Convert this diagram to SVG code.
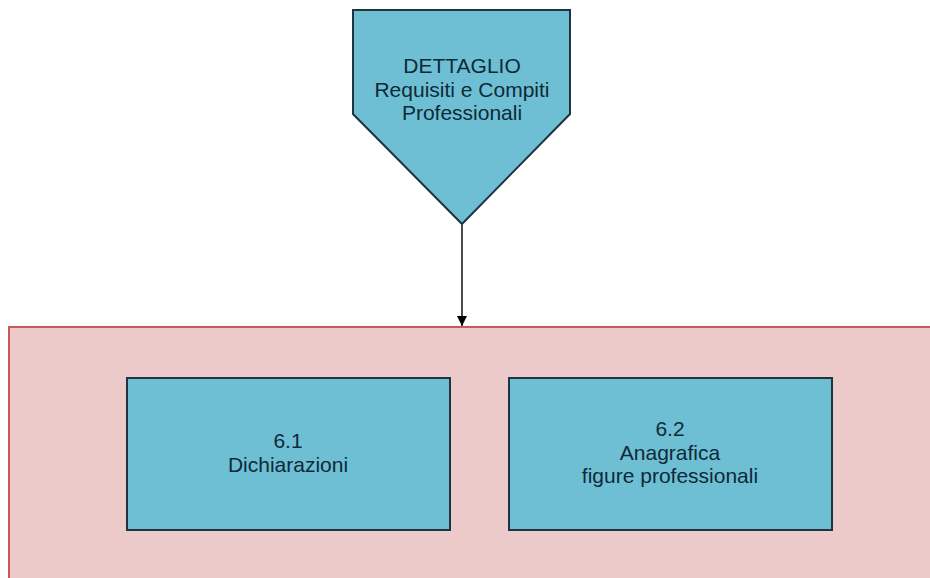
<svg xmlns="http://www.w3.org/2000/svg" width="930" height="578" viewBox="0 0 930 578">
<defs>
<style>
.blue{fill:#6fbfd4;stroke:#1e3440;stroke-width:2}
.t{font-family:"Liberation Sans",Arial,sans-serif;font-size:21px;fill:#0d2a38;text-anchor:middle}
</style>
<marker id="ah" markerWidth="12" markerHeight="12" refX="10" refY="5" orient="auto" markerUnits="userSpaceOnUse">
<path d="M0,0 L10,5 L0,10 Z" fill="#000"/>
</marker>
</defs>
<rect width="930" height="578" fill="#fff"/>
<g id="container">
<rect x="9" y="327" width="930" height="260" fill="#edcaca" stroke="#c85a5a" stroke-width="2"/>
</g>
<g id="dettaglio">
<polygon class="blue" points="353,10 570,10 570,114 462,224 353,114"/>
<text class="t" x="462" y="73">DETTAGLIO</text>
<text class="t" x="462" y="97">Requisiti e Compiti</text>
<text class="t" x="462" y="120">Professionali</text>
</g>
<g id="n61">
<rect class="blue" x="127" y="378" width="323" height="152"/>
<text class="t" x="288" y="448">6.1</text>
<text class="t" x="288" y="472">Dichiarazioni</text>
</g>
<g id="n62">
<rect class="blue" x="509" y="378" width="323" height="152"/>
<text class="t" x="670" y="436">6.2</text>
<text class="t" x="670" y="460">Anagrafica</text>
<text class="t" x="670" y="483">figure professionali</text>
</g>
<g id="connectors">
<line x1="462" y1="225" x2="462" y2="326" stroke="#111" stroke-width="1.5" marker-end="url(#ah)"/>
</g>
</svg>
